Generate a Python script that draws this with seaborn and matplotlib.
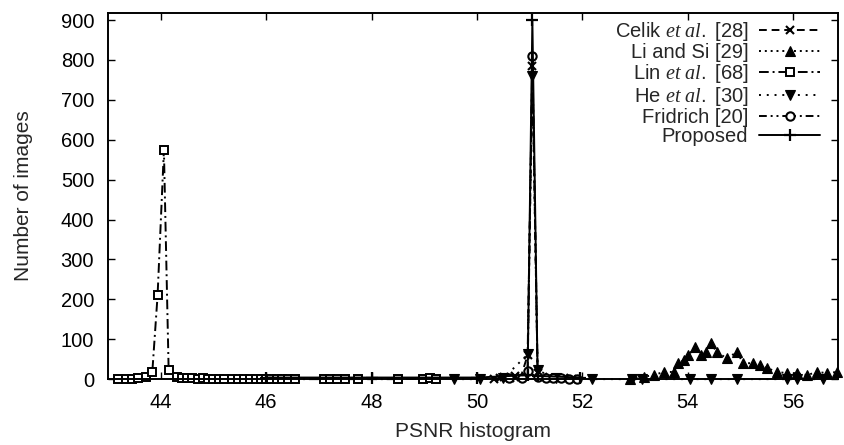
import matplotlib
matplotlib.use("Agg")
import matplotlib.pyplot as plt
import seaborn as sns

# ---- data ----
celik_x = [50.33, 50.43, 50.52, 50.62, 50.72, 50.83, 50.96, 51.05, 51.15, 51.25, 51.35, 51.5, 51.65, 51.8]
celik_y = [0, 3, 6, 4, 9, 5, 60, 785, 15, 6, 4, 3, 2, 0]

li_x = [52.9, 53.16, 53.35, 53.54, 53.73, 53.82, 53.92, 54.01, 54.14, 54.24, 54.35, 54.43, 54.55,
        54.74, 54.93, 55.05, 55.24, 55.37, 55.5, 55.69, 55.88, 56.07, 56.26, 56.45, 56.64, 56.83]
li_y = [0, 6, 10, 18, 18, 40, 48, 60, 81, 60, 68, 91, 68, 52, 68, 40, 40, 35, 28, 18, 15, 15, 10, 18, 15, 18]

lin_x = [43.18, 43.34, 43.46, 43.56, 43.72, 43.84, 43.94, 44.06, 44.15,
         44.3, 44.4, 44.5, 44.6, 44.7, 44.8, 44.9, 45.0, 45.1, 45.2,
         45.36, 45.47, 45.58, 45.69, 45.8, 45.9, 46.0, 46.1, 46.2,
         46.3, 46.42, 46.55, 47.1, 47.22, 47.35, 47.5, 47.74, 48.51, 48.97, 49.1, 49.23]
lin_y = [0, 0, 1, 2, 5, 18, 210, 574, 22,
         5, 3, 2, 2, 1, 2, 1, 1, 1, 0,
         1, 1, 0, 1, 0, 1, 1, 0, 1,
         0, 0, 0, 0, 1, 0, 0, 0, 0, 1, 2, 0]

he_x = [49.57, 50.05, 50.5, 50.96, 51.05, 51.15, 51.5, 52.19, 52.94, 53.13, 54.05, 54.43, 54.93, 55.88, 56.07, 56.57]
he_y = [0, 0, 2, 62, 760, 22, 2, 0, 0, 0, 0, 0, 0, 0, 0, 0]

fridrich_x = [50.6, 50.85, 50.96, 51.05, 51.15, 51.3, 51.45, 51.6, 51.75, 51.9]
fridrich_y = [2, 4, 20, 810, 5, 3, 4, 2, 1, 0]

proposed_x = [46.0, 48.0, 50.0, 50.96, 51.05, 51.15, 51.96]
proposed_y = [4, 4, 4, 10, 900, 8, 4]

labels = [r"Celik $\mathit{et\ al.}$ [28]", "Li and Si [29]", r"Lin $\mathit{et\ al.}$ [68]",
          r"He $\mathit{et\ al.}$ [30]", "Fridrich [20]", "Proposed"]

x_ticks = [44, 46, 48, 50, 52, 54, 56]
y_ticks = [0, 100, 200, 300, 400, 500, 600, 700, 800, 900]

# ---- style ----
sns.set_style("ticks")
plt.rcParams["font.family"] = ["Liberation Sans", "DejaVu Sans"]
plt.rcParams["mathtext.fontset"] = "custom"
plt.rcParams["mathtext.it"] = "Liberation Serif:italic"
plt.rcParams["mathtext.rm"] = "Liberation Sans"

fig = plt.figure(figsize=(8.44, 4.45), dpi=100)
ax = fig.add_axes([0.128, 0.148, 0.865, 0.823])

series = [
    (celik_x, celik_y, dict(marker="x", linestyle=(0, (4, 2.5)), markersize=6, markeredgewidth=1.5)),
    (li_x, li_y, dict(marker="^", linestyle=(0, (1, 2)), markersize=7, markeredgewidth=0.8)),
    (lin_x, lin_y, dict(marker="s", linestyle=(0, (5, 2, 1, 2)), markersize=6,
                        markerfacecolor="white", markeredgewidth=1.4)),
    (he_x, he_y, dict(marker="v", linestyle=(0, (1, 3)), markersize=7, markeredgewidth=0.8)),
    (fridrich_x, fridrich_y, dict(marker="o", linestyle=(0, (4, 2, 1, 2, 1, 2)), markersize=6,
                                  markerfacecolor="white", markeredgewidth=1.5)),
    (proposed_x, proposed_y, dict(marker="+", linestyle="-", markersize=9, markeredgewidth=1.6)),
]

for (xs, ys, kw), lab in zip(series, labels):
    sns.lineplot(x=xs, y=ys, ax=ax, color="black", linewidth=1.4, label=lab,
                 sort=False, estimator=None, clip_on=False, markeredgecolor="black", **kw)

ax.set_xlim(43.0, 56.85)
ax.set_ylim(0, 918)
ax.set_xticks(x_ticks)
ax.set_yticks(y_ticks)
ax.tick_params(direction="in", top=True, right=True, length=5, width=1,
               labelsize=14.5, colors="black", pad=10)
for s in ax.spines.values():
    s.set_linewidth(1.4)
    s.set_color("black")
ax.set_xlabel("PSNR histogram", fontsize=15, labelpad=7)
ax.set_ylabel("Number of images", fontsize=15, labelpad=20)

handles, labs = ax.get_legend_handles_labels()
ax.legend(handles, labs, loc="upper right", bbox_to_anchor=(0.975, 0.98),
          frameon=False, markerfirst=False, fontsize=14.5, handlelength=3.0,
          handletextpad=0.55, labelspacing=0.0, borderpad=0, borderaxespad=0)

fig.savefig("out.png", dpi=100)
